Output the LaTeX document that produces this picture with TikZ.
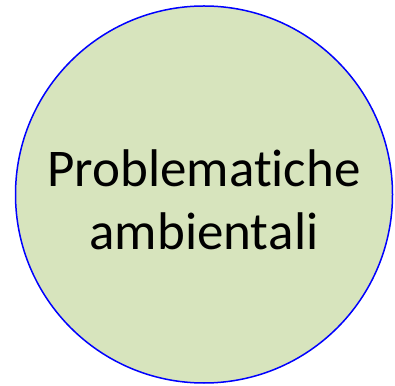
\documentclass[tikz,border=0pt]{standalone}
\usepackage{fontspec}
\setmainfont[Ligatures={NoCommon,NoRequired,NoContextual}]{Carlito}
\definecolor{TopicGreen}{RGB}{215,228,189}
\definecolor{TopicBlue}{RGB}{0,0,255}

\begin{document}
\begin{tikzpicture}[
  x=1pt, y=1pt,
  topic/.style={circle, draw=TopicBlue, fill=TopicGreen, line width=1.5pt,
    minimum size=377pt, inner sep=0pt, align=center,
    font=\fontsize{53}{63.5}\selectfont, text height=111pt}
]
\useasboundingbox (0,0) rectangle (395,385);
\node[topic] (problemi) at (204,190.5) {Problemat\kern0pt iche\\ambient\kern0pt ali};
\end{tikzpicture}
\end{document}
